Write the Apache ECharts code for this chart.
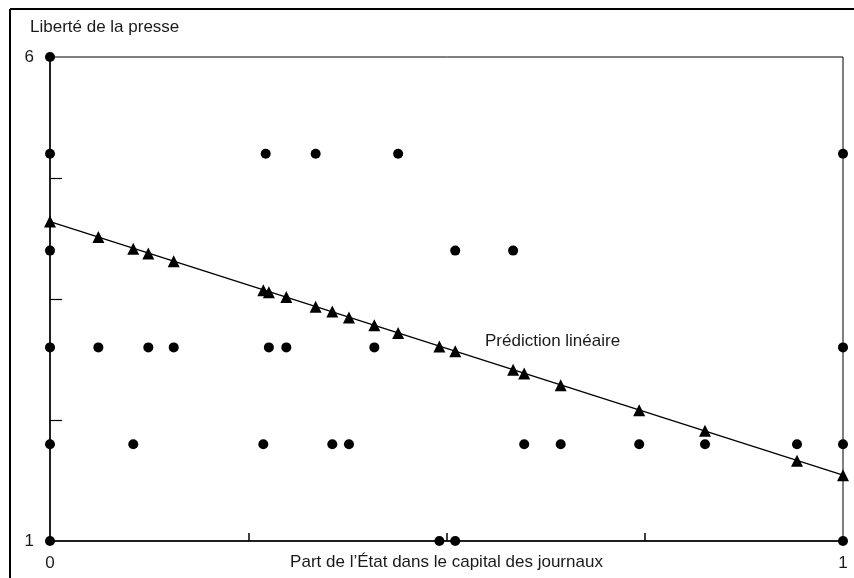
<!DOCTYPE html>
<html>
<head>
<meta charset="utf-8">
<script src="https://cdn.jsdelivr.net/npm/echarts@6/dist/echarts.min.js"></script>
<style>
  html, body { margin: 0; padding: 0; background: #fff; }
  #chart { width: 854px; height: 578px; }
</style>
</head>
<body>
<div id="chart"></div>
<script>
// observed points: [part de l'État, liberté de la presse]
var observed = [
  [0, 6], [0, 5], [0, 4], [0, 3], [0, 2], [0, 1],
  [0.272, 5], [0.335, 5], [0.439, 5], [1, 5],
  [0.511, 4], [0.584, 4],
  [0.061, 3], [0.124, 3], [0.156, 3], [0.276, 3], [0.298, 3], [0.409, 3], [1, 3],
  [0.105, 2], [0.269, 2], [0.356, 2], [0.377, 2], [0.598, 2], [0.644, 2],
  [0.743, 2], [0.826, 2], [0.942, 2], [1, 2],
  [0.491, 1], [0.511, 1], [1, 1]
];
// predicted values (triangles)
var predicted = [
  [0, 4.30], [0.061, 4.14], [0.105, 4.02], [0.124, 3.97], [0.156, 3.89],
  [0.269, 3.59], [0.276, 3.57], [0.298, 3.52], [0.335, 3.42], [0.356, 3.37],
  [0.377, 3.31], [0.409, 3.23], [0.439, 3.15], [0.491, 3.01], [0.511, 2.96],
  [0.584, 2.77], [0.598, 2.73], [0.644, 2.61], [0.743, 2.35], [0.826, 2.14],
  [0.942, 1.83], [1, 1.68]
];
var fitLine = [[0, 4.30], [1, 1.68]];
var xLabels = [0, 1];
var xTicks = [0.25, 0.5, 0.75];
var yLabels = [1, 6];
var yTicks = [2.25, 3.5, 4.75];

var font = '"Liberation Sans", Arial, sans-serif';
var textColor = '#1a1a1a';

var chart = echarts.init(document.getElementById('chart'));
chart.setOption({
  animation: false,
  backgroundColor: '#fff',
  title: {
    text: 'Liberté de la presse',
    left: 25,
    top: 14,
    textStyle: {fontFamily: font, fontSize: 17, fontWeight: 'normal', color: textColor}
  },
  grid: {
    left: 50, right: 11, top: 57, bottom: 37,
    outerBoundsMode: 'none',
    containLabel: false,
    show: true, borderColor: '#000', borderWidth: 1
  },
  xAxis: {
    type: 'value',
    min: 0, max: 1,
    name: 'Part de l’État dans le capital des journaux',
    nameLocation: 'middle',
    nameGap: 13,
    nameMoveOverlap: false,
    nameTextStyle: {fontFamily: font, fontSize: 17, color: textColor, verticalAlign: 'top'},
    splitLine: {show: false},
    axisLine: {lineStyle: {color: '#000', width: 1.5}},
    axisTick: {show: true, inside: true, length: 8, customValues: xTicks, lineStyle: {color: '#000', width: 1.5}},
    axisLabel: {customValues: xLabels, margin: 14, fontFamily: font, fontSize: 17, color: textColor}
  },
  yAxis: {
    type: 'value',
    min: 1, max: 6,
    splitLine: {show: false},
    axisLine: {show: true, lineStyle: {color: '#000', width: 1.5}},
    axisTick: {show: true, inside: true, length: 12, customValues: yTicks, lineStyle: {color: '#000', width: 1.2}},
    axisLabel: {customValues: yLabels, margin: 16, fontFamily: font, fontSize: 17, color: textColor}
  },
  graphic: [
    {type: 'line', shape: {x1: 10, y1: 9, x2: 854, y2: 9}, style: {stroke: '#000', lineWidth: 2}},
    {type: 'line', shape: {x1: 10, y1: 9, x2: 10, y2: 578}, style: {stroke: '#000', lineWidth: 2}},
    {
      type: 'text', left: 485, top: 333,
      style: {text: 'Prédiction linéaire', font: '17px ' + font, fill: textColor}
    }
  ],
  series: [
    {
      type: 'line',
      data: fitLine,
      symbol: 'none',
      lineStyle: {color: '#000', width: 1.3},
      silent: true,
      z: 2
    },
    {
      type: 'scatter',
      data: predicted,
      symbol: 'triangle',
      symbolSize: 12,
      itemStyle: {color: '#000', opacity: 1},
      clip: false,
      z: 3
    },
    {
      type: 'scatter',
      data: observed,
      symbol: 'circle',
      symbolSize: 10,
      itemStyle: {color: '#000', opacity: 1},
      clip: false,
      z: 3
    }
  ]
});
</script>
</body>
</html>
